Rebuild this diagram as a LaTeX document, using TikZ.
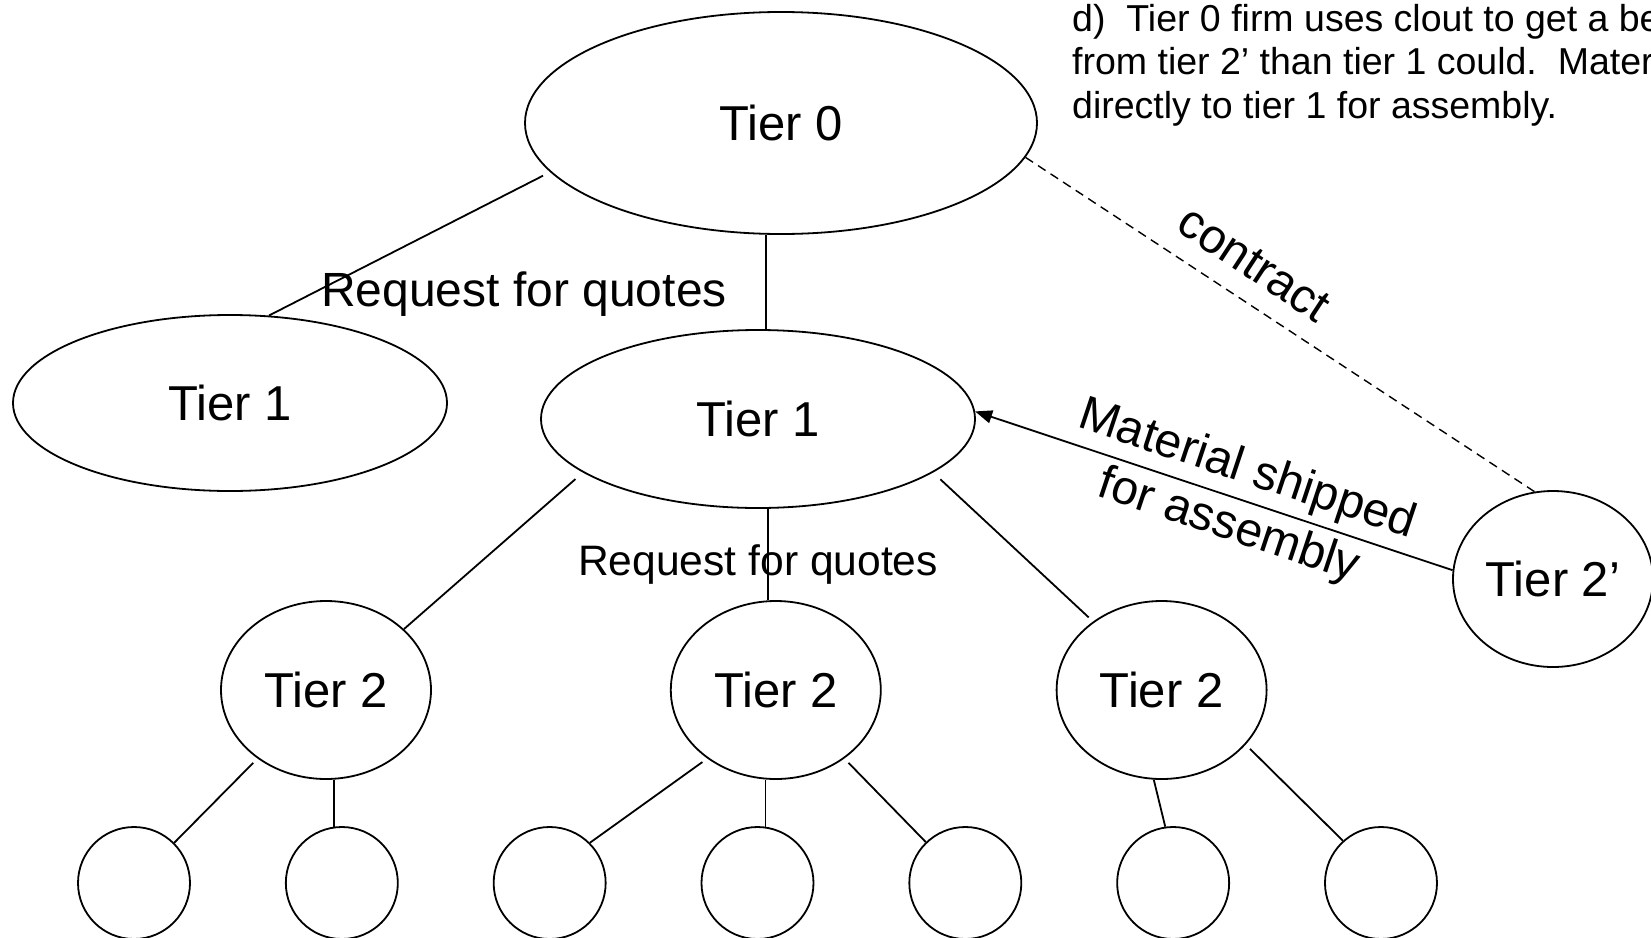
\documentclass[tikz,border=0pt]{standalone}
\usepackage{fontspec}
\setmainfont{Liberation Sans}
\usetikzlibrary{arrows.meta, positioning, shapes.geometric}
\frenchspacing

\tikzset{
    tier/.style={draw, ellipse, line width=1.8pt, inner sep=0pt,
                 font=\fontsize{49}{58}\selectfont},
    leaf/.style={draw, circle, line width=1.8pt, minimum size=112pt, inner sep=0pt},
    link/.style={line width=1.8pt},
}

\begin{document}
\begin{tikzpicture}[x=1pt, y=-1pt]
    \useasboundingbox (0,0) rectangle (1651,937);

    % tier 0 and tier 1 boxes
    \node[tier, minimum width=512pt, minimum height=222pt] (t0) at (781,123) {Tier 0};
    \node[tier, minimum width=434pt, minimum height=176pt] (t1a) at (230,403) {Tier 1};
    \node[tier, minimum width=434pt, minimum height=178pt] (t1b) at (758,419) {Tier 1};

    % tier 2 boxes
    \node[tier, minimum width=210pt, minimum height=178pt] (t2a) at (326,690) {Tier 2};
    \node[tier, minimum width=210pt, minimum height=178pt, right=238pt of t2a] (t2b) {Tier 2};
    \node[tier, minimum width=210pt, minimum height=178pt, right=174pt of t2b] (t2c) {Tier 2};
    \node[tier, minimum width=200pt, minimum height=176pt] (t2p) at (1553,579) {Tier 2’};

    % lower tier
    \foreach \i in {1,...,7}
        \node[leaf] (c\i) at ({134+207.83*(\i-1)},883) {};

    % quote requests
    \node[font=\fontsize{48}{57}\selectfont, anchor=base, inner sep=0pt] (rfq0) at (524,306) {Request for quotes};
    \node[font=\fontsize{42.6}{51}\selectfont, anchor=base, inner sep=0pt] (rfq1) at (758,575) {Request for quotes};

    % note
    \node[anchor=north west, align=left, inner sep=0pt,
          font=\fontsize{37.5}{43.5}\selectfont] (note) at (1072,4) {
        d)\ \ Tier 0 firm uses clout to get a be\\
        from tier 2’ than tier 1 could.\ \ Mater\\
        directly to tier 1 for assembly.};

    % tree links
    \draw[link, shorten <=8pt] (t0.192) -- (t1a.66);
    \draw[link] (t1b.85 |- t0.south) -- (t1b.85);
    \draw[link, shorten <=10pt] (t1b.197) -- (t2a.38);
    \draw[link] (t2b.95 |- t1b.south) -- (t2b.95);
    \draw[link, shorten <=10pt, shorten >=6pt] (t1b.343) -- (t2c.135);

    \draw[link, shorten <=6pt] (t2a.225) -- (c1.45);
    \draw[link] (c2.98 |- t2a.south) -- (c2.98);
    \draw[link, shorten <=6pt] (t2b.225) -- (c3.45);
    \draw[link] (c4.82 |- t2b.south) -- (c4.82);
    \draw[link, shorten <=6pt] (t2b.315) -- (c5.134);
    \draw[link] (t2c.265) -- (c6.98);
    \draw[link, shorten <=6pt] (t2c.327) -- (c7.132);

    % contract and shipment
    \draw[line width=1.4pt, dash pattern=on 9pt off 6pt] (t0.352)
        -- node[sloped, above, pos=0.41, inner sep=20pt, font=\fontsize{48}{58}\selectfont] (ctr) {contract} (t2p.102);
    \draw[link, -{Triangle[length=17pt, width=13pt]}] (t2p.175)
        -- node[sloped, pos=0.45, align=center, font=\fontsize{48}{59}\selectfont] (ship) {Material shipped\\for assembly} (t1b.2);
\end{tikzpicture}
\end{document}
